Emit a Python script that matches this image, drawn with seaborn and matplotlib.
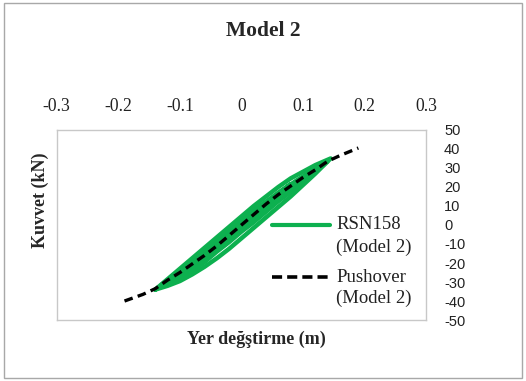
import matplotlib
matplotlib.use("Agg")
import matplotlib.pyplot as plt
from matplotlib.lines import Line2D
from matplotlib.patches import Rectangle
import seaborn as sns
import pandas as pd

# Pushover capacity curve (displacement in m, force in kN)
pushover_disp = [-0.19, -0.16, -0.14, -0.12, -0.10, -0.08, -0.06, -0.04, -0.02, 0.0,
                 0.02, 0.04, 0.06, 0.08, 0.10, 0.12, 0.14, 0.16, 0.19]
pushover_force = [-40.0, -36.5, -33.5, -29.0, -25.0, -20.5, -16.0, -11.0, -5.5, 0.0,
                  5.5, 11.0, 16.0, 20.5, 25.0, 29.0, 33.5, 36.5, 40.5]

# RSN158 time-history hysteresis loops
loop1_disp = [-0.14, -0.12, -0.10, -0.08, -0.06, -0.04, -0.02, 0.0, 0.02, 0.04, 0.06, 0.08, 0.10, 0.12, 0.145,
              0.12, 0.10, 0.08, 0.06, 0.04, 0.02, 0.0, -0.02, -0.04, -0.06, -0.08, -0.10, -0.12, -0.14]
loop1_force = [-34.0, -28.5, -23.0, -17.5, -12.0, -6.5, -1.0, 4.5, 10.0, 15.0, 20.0, 24.5, 28.0, 31.5, 35.0,
               27.0, 21.0, 15.0, 9.5, 4.0, -1.5, -7.0, -12.5, -17.5, -22.0, -26.0, -29.5, -32.0, -34.0]

loop2_disp = [-0.13, -0.11, -0.09, -0.07, -0.05, -0.03, -0.01, 0.01, 0.03, 0.05, 0.07, 0.09, 0.11, 0.14,
              0.12, 0.10, 0.08, 0.06, 0.04, 0.02, 0.0, -0.02, -0.04, -0.06, -0.08, -0.10, -0.13]
loop2_force = [-31.5, -26.5, -21.5, -16.5, -11.0, -6.0, -0.5, 5.0, 10.0, 14.5, 19.0, 23.5, 27.5, 33.5,
               28.0, 23.0, 17.5, 12.5, 7.0, 1.5, -3.5, -9.0, -14.0, -19.5, -24.0, -28.0, -32.0]

loop3_disp = [-0.11, -0.09, -0.07, -0.05, -0.03, -0.01, 0.01, 0.03, 0.05, 0.07, 0.09, 0.12,
              0.10, 0.08, 0.06, 0.04, 0.02, 0.0, -0.02, -0.04, -0.06, -0.08, -0.11]
loop3_force = [-28.0, -23.5, -18.5, -13.0, -7.5, -2.5, 3.0, 8.5, 13.5, 18.5, 23.0, 29.5,
               25.0, 20.0, 15.0, 9.5, 4.0, -1.5, -7.0, -12.5, -18.0, -22.5, -28.5]

loop4_disp = [-0.08, -0.06, -0.04, -0.02, 0.0, 0.02, 0.04, 0.06, 0.08,
              0.06, 0.04, 0.02, 0.0, -0.02, -0.04, -0.06, -0.08]
loop4_force = [-21.0, -15.5, -10.0, -4.5, 1.5, 7.0, 12.0, 17.0, 21.5,
               16.0, 10.5, 5.0, -1.0, -6.5, -12.0, -17.0, -21.0]

x_ticks = [-0.3, -0.2, -0.1, 0.0, 0.1, 0.2, 0.3]
x_tick_labels = ["-0.3", "-0.2", "-0.1", "0", "0.1", "0.2", "0.3"]
y_ticks = [-50, -40, -30, -20, -10, 0, 10, 20, 30, 40, 50]

GREEN = "#0DB04F"
SERIF = "Liberation Serif"
SANS = "Liberation Sans"

sns.set_style("white")
plt.rcParams["font.family"] = [SERIF, "DejaVu Serif"]

fig = plt.figure(figsize=(5.26, 3.81), dpi=100)
ax = fig.add_axes([0.108, 0.160, 0.702, 0.499])

loops = [(loop1_disp, loop1_force), (loop2_disp, loop2_force),
         (loop3_disp, loop3_force), (loop4_disp, loop4_force)]
for d, f in loops:
    df = pd.DataFrame({"disp": d, "force": f})
    sns.lineplot(data=df, x="disp", y="force", sort=False, estimator=None,
                 color=GREEN, linewidth=3.2, ax=ax, solid_joinstyle="round",
                 solid_capstyle="round")

push_df = pd.DataFrame({"disp": pushover_disp, "force": pushover_force})
sns.lineplot(data=push_df, x="disp", y="force", sort=False, estimator=None,
             color="black", linewidth=2.4, ax=ax, linestyle=(0, (2.6, 1.6)))

ax.set_xlim(-0.3, 0.3)
ax.set_ylim(-50, 50)
ax.xaxis.tick_top()
ax.yaxis.tick_right()
ax.set_xticks(x_ticks)
ax.set_xticklabels(x_tick_labels, fontfamily=SERIF, fontsize=12.7)
ax.set_yticks(y_ticks)
ax.set_yticklabels([str(v) for v in y_ticks], fontfamily=SANS, fontsize=10.5)
ax.tick_params(axis="x", length=0, pad=11, colors="#222222")
ax.tick_params(axis="y", length=0, pad=13, colors="#222222")
ax.set_xlabel("")
ax.set_ylabel("")
for s in ax.spines.values():
    s.set_color("#C8C8C8")
    s.set_linewidth(1.0)

# Titles and axis labels
fig.text(0.5, 0.919, "Model 2", ha="center", va="center",
         fontsize=15.5, fontweight="bold", fontfamily=SERIF)
fig.text(0.488, 0.110, "Yer değştirme (m)", ha="center", va="center",
         fontsize=13, fontweight="bold", fontfamily=SERIF)
fig.text(0.076, 0.475, "Kuvvet (kN)", ha="center", va="center", rotation=90,
         fontsize=13, fontweight="bold", fontfamily=SERIF)

# Legend
W, H = 526.0, 381.0
fig.lines.append(Line2D([272 / W, 330 / W], [1 - 225 / H] * 2, color=GREEN,
                        linewidth=3.0, transform=fig.transFigure))
fig.lines.append(Line2D([272 / W, 328 / W], [1 - 277 / H] * 2, color="black",
                        linewidth=2.6, linestyle=(0, (2.8, 1.4)), transform=fig.transFigure))
for txt, yy in [("RSN158", 225), ("(Model 2)", 247), ("Pushover", 277), ("(Model 2)", 298)]:
    fig.text(336 / W, 1 - yy / H, txt, ha="left", va="center",
             fontsize=13.5, fontfamily=SERIF, color="#222222")

# Outer chart border
fig.patches.append(Rectangle((4 / W, 3 / H), 518 / W, 375 / H, fill=False,
                             edgecolor="#A8A8A8", linewidth=1.0,
                             transform=fig.transFigure))

fig.savefig("out.png", dpi=100)
